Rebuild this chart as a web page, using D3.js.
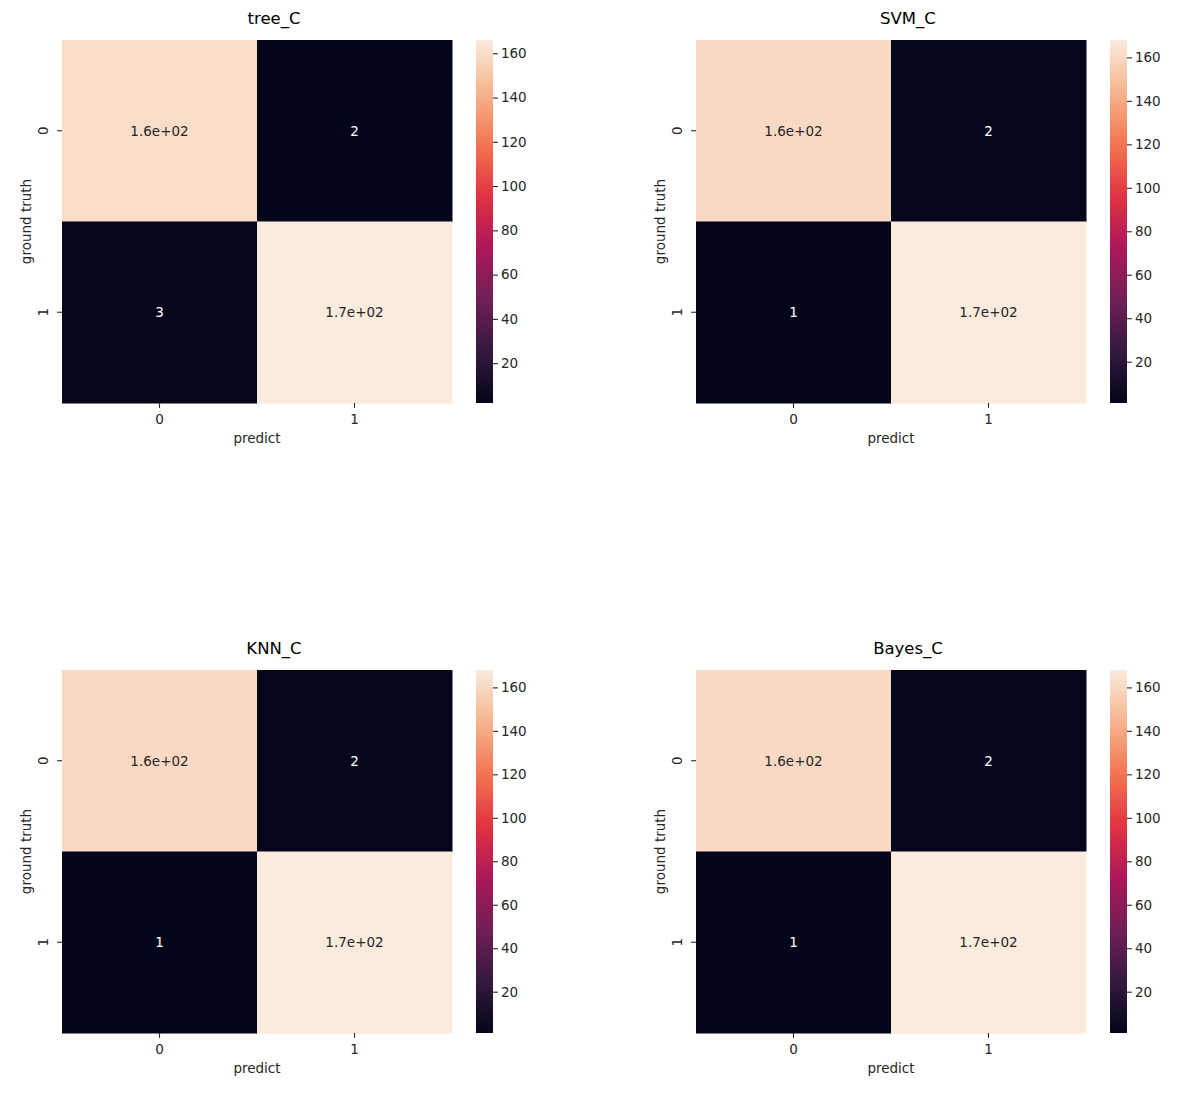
<!DOCTYPE html>
<html>
<head>
<meta charset="utf-8">
<script src="https://cdn.jsdelivr.net/npm/d3@7"></script>
<style>
  html, body { margin: 0; padding: 0; background: #fff; }
  svg { display: block; font-family: "DejaVu Sans", sans-serif; }
</style>
</head>
<body>
<svg id="chart" width="1182" height="1095"></svg>
<script>
// ---------------- data ----------------
const titles = ["tree_C", "SVM_C", "KNN_C", "Bayes_C"];
const classLabels = ["0", "1"];
const treeC  = [[160, 2], [3, 166]];
const svmC   = [[160, 2], [1, 168]];
const knnC   = [[160, 2], [1, 168]];
const bayesC = [[160, 2], [1, 168]];
const matrices = [treeC, svmC, knnC, bayesC];
const annotLabels = [
  [["1.6e+02", "2"], ["3", "1.7e+02"]],
  [["1.6e+02", "2"], ["1", "1.7e+02"]],
  [["1.6e+02", "2"], ["1", "1.7e+02"]],
  [["1.6e+02", "2"], ["1", "1.7e+02"]]
];
const colorbarTicks = [20, 40, 60, 80, 100, 120, 140, 160];
const xLabel = "predict";
const yLabel = "ground truth";
// seaborn "rocket" colormap anchor colours
const rocketColors = ["#03051a", "#35193e", "#701f57", "#ad1759", "#e13342", "#f37651", "#f6b48f", "#faebdd"];

// ---------------- layout ----------------
const svg = d3.select("#chart");
const panelOrigins = [[62, 40], [696, 40], [62, 670], [696, 670]];
const W = 390, H = 363;
const cbGap = 414, cbW = 17;
const fontSize = 13.5;
const textColor = "#262626";

const rocket = d3.scaleLinear()
  .domain(d3.range(rocketColors.length).map(i => i / (rocketColors.length - 1)))
  .range(rocketColors)
  .interpolate(d3.interpolateRgb);

const defs = svg.append("defs");

matrices.forEach((mat, k) => {
  const [ox, oy] = panelOrigins[k];
  const g = svg.append("g").attr("transform", `translate(${ox},${oy})`);
  const flat = mat.flat();
  const vmin = d3.min(flat), vmax = d3.max(flat);
  const norm = d3.scaleLinear().domain([vmin, vmax]).range([0, 1]);
  const color = v => rocket(norm(v));

  const x = d3.scaleBand().domain(classLabels).range([0, W]);
  const y = d3.scaleBand().domain(classLabels).range([0, H]);

  // cells
  mat.forEach((row, i) => {
    row.forEach((v, j) => {
      g.append("rect")
        .attr("x", x(classLabels[j]))
        .attr("y", y(classLabels[i]))
        .attr("width", x.bandwidth() + 0.5)
        .attr("height", y.bandwidth() + 0.5)
        .attr("fill", color(v));
      const lum = d3.lab(color(v)).l / 100;
      g.append("text")
        .attr("x", x(classLabels[j]) + x.bandwidth() / 2)
        .attr("y", y(classLabels[i]) + y.bandwidth() / 2)
        .attr("text-anchor", "middle")
        .attr("dominant-baseline", "central")
        .attr("font-size", fontSize)
        .attr("fill", lum > 0.5 ? textColor : "#ffffff")
        .text(annotLabels[k][i][j]);
    });
  });

  // x axis
  const xa = g.append("g").attr("transform", `translate(0,${H})`)
    .call(d3.axisBottom(x).tickSize(4.9).tickPadding(7));
  xa.select(".domain").remove();
  xa.selectAll(".tick line").attr("stroke", textColor).attr("stroke-width", 1.1);
  xa.selectAll(".tick text").attr("font-size", fontSize).attr("fill", textColor)
    .attr("font-family", "DejaVu Sans, sans-serif");

  // y axis (rotated tick labels)
  const ya = g.append("g").call(d3.axisLeft(y).tickSize(4.9).tickPadding(4));
  ya.select(".domain").remove();
  ya.selectAll(".tick line").attr("stroke", textColor).attr("stroke-width", 1.1);
  ya.selectAll(".tick text")
    .attr("font-size", fontSize).attr("fill", textColor)
    .attr("font-family", "DejaVu Sans, sans-serif")
    .attr("x", null).attr("dy", null)
    .attr("text-anchor", "middle")
    .attr("transform", "translate(-19,0) rotate(-90)")
    .attr("dominant-baseline", "central");

  // axis labels
  g.append("text")
    .attr("x", W / 2).attr("y", H + 40)
    .attr("text-anchor", "middle")
    .attr("font-size", fontSize).attr("fill", textColor)
    .text(xLabel);
  g.append("text")
    .attr("transform", `translate(-31,${H / 2}) rotate(-90)`)
    .attr("text-anchor", "middle")
    .attr("font-size", fontSize).attr("fill", textColor)
    .text(yLabel);

  // title (centred over heatmap + colorbar)
  g.append("text")
    .attr("x", 212).attr("y", -16)
    .attr("text-anchor", "middle")
    .attr("font-size", 16.5).attr("fill", "#000")
    .text(titles[k]);

  // colorbar
  const gradId = "grad" + k;
  const grad = defs.append("linearGradient").attr("id", gradId)
    .attr("x1", 0).attr("y1", 1).attr("x2", 0).attr("y2", 0);
  d3.range(0, 1.0001, 0.02).forEach(t => {
    grad.append("stop").attr("offset", t).attr("stop-color", rocket(t));
  });
  const cb = g.append("g").attr("transform", `translate(${cbGap},0)`);
  cb.append("rect").attr("width", cbW).attr("height", H).attr("fill", `url(#${gradId})`);
  const cy = d3.scaleLinear().domain([vmin, vmax]).range([H, 0]);
  const cba = cb.append("g").attr("transform", `translate(${cbW},0)`)
    .call(d3.axisRight(cy).tickValues(colorbarTicks).tickSize(4.9).tickPadding(3));
  cba.select(".domain").remove();
  cba.selectAll(".tick line").attr("stroke", textColor).attr("stroke-width", 1.1);
  cba.selectAll(".tick text").attr("font-size", fontSize).attr("fill", textColor)
    .attr("font-family", "DejaVu Sans, sans-serif");
});
</script>
</body>
</html>
